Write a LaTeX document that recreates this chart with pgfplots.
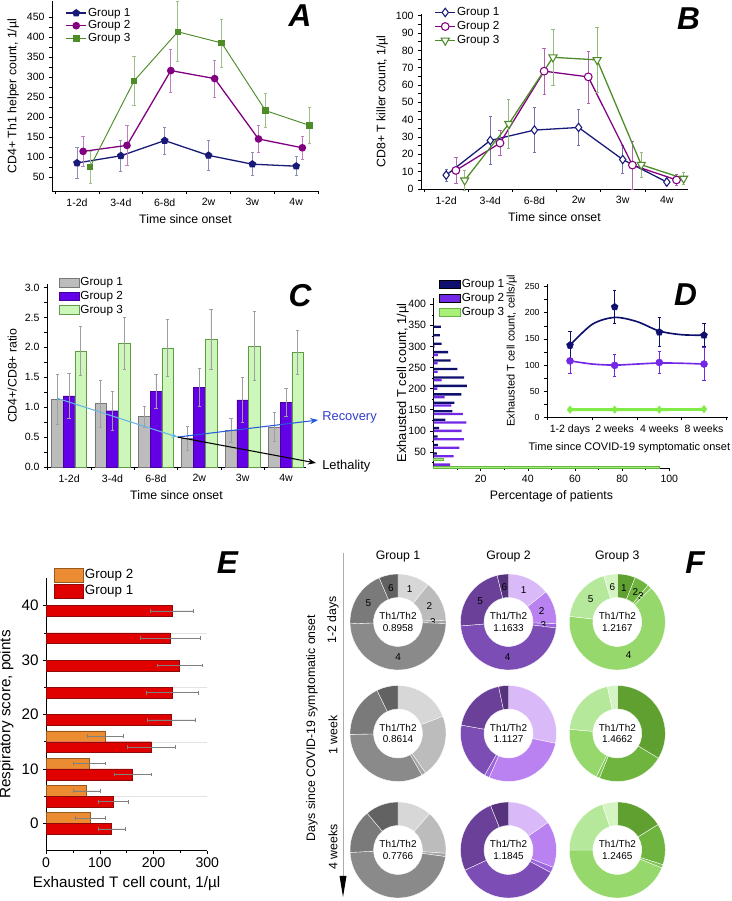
\documentclass[border=0pt]{standalone}
\usepackage{fontspec}
\setmainfont{Liberation Sans}
\usepackage{pgfplots}
\pgfplotsset{compat=1.18}
\usetikzlibrary{arrows.meta}

\newcommand\ftick{\fontsize{9}{10}\selectfont}
\newcommand\flab{\fontsize{10.5}{12}\selectfont}
\newcommand\fleg{\fontsize{10}{11}\selectfont}
\newcommand\fbig{\fontsize{27}{30}\selectfont\bfseries\itshape}
\newcommand\fth{\fontsize{8.5}{10}\selectfont}

\definecolor{nvA}{RGB}{25,25,120}
\definecolor{puA}{RGB}{128,0,128}
\definecolor{grA}{RGB}{78,140,40}
\definecolor{gyC}{RGB}{188,188,188}
\definecolor{gyCd}{RGB}{120,120,120}
\definecolor{puC}{RGB}{100,0,230}
\definecolor{puCd}{RGB}{70,0,160}
\definecolor{lgC}{RGB}{205,246,186}
\definecolor{lgCd}{RGB}{95,155,70}
\definecolor{ltbl}{RGB}{100,180,230}
\definecolor{rbbl}{RGB}{40,90,220}
\definecolor{recv}{RGB}{50,60,200}
\definecolor{nvD}{RGB}{15,15,110}
\definecolor{puD}{RGB}{115,40,230}
\definecolor{lgD}{RGB}{170,240,120}
\definecolor{lgDd}{RGB}{100,180,70}
\definecolor{lnD}{RGB}{130,235,70}
\definecolor{orE}{RGB}{235,140,50}
\definecolor{orEd}{RGB}{150,90,30}
\definecolor{rdE}{RGB}{225,0,0}
\definecolor{rdEd}{RGB}{140,10,10}
% donut palettes
\definecolor{gy1}{RGB}{215,215,215}
\definecolor{gy2}{RGB}{188,188,188}
\definecolor{gy3}{RGB}{165,165,165}
\definecolor{gy4}{RGB}{138,138,138}
\definecolor{gy5}{RGB}{122,122,122}
\definecolor{gy6}{RGB}{98,98,98}
\definecolor{pu1}{RGB}{218,185,248}
\definecolor{pu2}{RGB}{185,130,240}
\definecolor{pu3}{RGB}{155,100,220}
\definecolor{pu4}{RGB}{123,77,181}
\definecolor{pu5}{RGB}{106,64,153}
\definecolor{pu6}{RGB}{87,51,125}
\definecolor{gn1}{RGB}{95,160,48}
\definecolor{gn2}{RGB}{112,180,64}
\definecolor{gn3}{RGB}{128,196,85}
\definecolor{gn4}{RGB}{150,216,108}
\definecolor{gn5}{RGB}{181,232,154}
\definecolor{gn6}{RGB}{212,245,194}

\pgfplotsset{
  orig/.style={
    scale only axis, anchor=south west,
    axis lines=left, axis line style={-, line width=0.5pt},
    tick align=outside, major tick length=1mm, minor tick length=0.6mm,
    tick style={black, line width=0.45pt},
    tick label style={font=\ftick},
    label style={font=\flab},
    /pgf/number format/assume math mode=true,
    /pgf/number format/1000 sep={},
    clip=false,
    legend cell align=left,
    legend style={draw=none, fill=none, anchor=north west, inner sep=0pt,
      font=\fleg, nodes={inner sep=1pt}},
  },
  category/.style={major x tick style={draw=none}, minor tick length=0.9mm},
  ebar/.style={error bars/.cd, y dir=both, y explicit,
    error bar style={#1, line width=0.6pt},
    error mark options={#1, rotate=90, mark size=1.4pt, line width=0.6pt}},
  xebar/.style={error bars/.cd, x dir=both, x explicit,
    error bar style={#1, line width=0.4pt},
    error mark options={#1, rotate=90, mark size=1.6pt, line width=0.4pt}},
  boxlegend/.style 2 args={legend image code/.code={
    \draw[##1] (0mm,-#2/2) rectangle (#1,#2/2);}},
}

% donut: x px, y px (from top), palette, six shares in percent, numbered?
\newcommand\donut[5]{%
  \begin{scope}[shift={(#1,901-#2)}]
  \gdef\cum{0}%
  \foreach \s [count=\i] in {#4}{%
    \pgfmathsetmacro\aa{90-3.6*\cum}%
    \pgfmathsetmacro\bb{90-3.6*(\cum+\s)}%
    \fill[fill=#3\i, draw=white, line width=0.3pt] (\aa:48)
      arc[start angle=\aa, end angle=\bb, radius=48] -- (\bb:24.5)
      arc[start angle=\bb, end angle=\aa, radius=24.5] -- cycle;
    \ifnum#5=1
      \pgfmathsetmacro\mm{(\aa+\bb)/2}%
      \node[font=\fth, inner sep=0pt] at (\mm:35) {\i};
    \fi
    \pgfmathsetmacro\nc{\cum+\s}\xdef\cum{\nc}%
  }%
  \end{scope}}

\begin{document}
\begin{tikzpicture}
\path[use as bounding box] (0,0) rectangle (219.3mm,270.3mm);

% ---------- A
\begin{axis}[orig, category, at={(15.6mm,213mm)}, width=80.1mm, height=57mm,
  xmin=0.43, xmax=6.52, ymin=15, ymax=490,
  xtick={1,...,6}, xticklabels={1-2d,3-4d,6-8d,2w,3w,4w},
  minor xtick={0.5,1.5,...,6.5},
  ytick={50,100,...,450}, minor ytick={75,125,...,425},
  xlabel={Time since onset}, ylabel={CD4+ Th1 helper count, 1/µl},
  legend style={at={(0.05,0.97)}, row sep=0.3pt}]
\addplot[nvA, line width=1.1pt, mark=pentagon*, mark size=2.8pt, mark options={solid},
  ebar=nvA!50] coordinates {
  (1,85) +- (0,38) (2,103) +- (0,38) (3,141) +- (0,34)
  (4,104) +- (0,37) (5,82) +- (0,29) (6,77) +- (0,24)};
\addplot[puA, line width=1.1pt, mark=*, mark size=2.7pt, mark options={solid},
  ebar=puA!50] coordinates {
  (1.14,114) +- (0,38) (2.14,129) +- (0,50) (3.14,316) +- (0,54)
  (4.14,296) +- (0,46) (5.14,145) +- (0,33) (6.14,123) +- (0,29)};
\addplot[grA, line width=0.8pt, mark=square*, mark size=2.4pt, mark options={solid},
  ebar=grA!55] coordinates {
  (1.3,75) +- (0,40) (2.3,290) +- (0,61) (3.3,413) +- (0,75)
  (4.3,385) +- (0,60) (5.3,216) +- (0,43) (6.3,179) +- (0,45)};
\legend{Group 1, Group 2, Group 3}
\end{axis}

% ---------- B
\begin{axis}[orig, category, at={(126.3mm,213.6mm)}, width=80.1mm, height=52.5mm,
  xmin=0.43, xmax=6.48, ymin=0, ymax=101,
  xtick={1,...,6}, xticklabels={1-2d,3-4d,6-8d,2w,3w,4w},
  minor xtick={0.5,1.5,...,6.5},
  ytick={0,10,...,100}, minor ytick={5,15,...,95},
  xlabel={Time since onset}, ylabel={CD8+ T killer count, 1/µl},
  legend style={at={(0.05,1.045)}, row sep=1.5pt}]
\addplot[nvA, line width=1.1pt, mark=diamond*, mark size=3.6pt,
  mark options={solid, fill=white, line width=0.9pt}, ebar=nvA!60] coordinates {
  (1,8) +- (0,3.5) (2,28) +- (0,14) (3,34) +- (0,13)
  (4,35.5) +- (0,10.5) (5,17) +- (0,8) (6,4) +- (0,2)};
\addplot[puA, line width=1.1pt, mark=*, mark size=3.3pt,
  mark options={solid, fill=white, line width=0.9pt}, ebar=puA!60] coordinates {
  (1.22,10.7) +- (0,7.7) (2.22,26.5) +- (0,7.2) (3.22,68) +- (0,13.4)
  (4.22,64.7) +- (0,15) (5.22,13.8) +- (0,13.8) (6.22,5.2) +- (0,3.3)};
\addplot[grA, line width=1.1pt, mark=triangle*, mark size=4pt,
  mark options={solid, fill=white, line width=0.9pt, rotate=180}, ebar=grA!60] coordinates {
  (1.42,5) +- (0,6) (2.42,37.6) +- (0,14) (3.42,76) +- (0,16)
  (4.42,74.5) +- (0,18.5) (5.42,14) +- (0,7) (6.38,6) +- (0,3.6)};
\legend{Group 1, Group 2, Group 3}
\end{axis}

% ---------- C
\begin{axis}[orig, category, at={(14.1mm,130.2mm)}, width=77.7mm, height=54.75mm,
  xmin=0.49, xmax=6.46, ymin=0, ymax=3.05,
  xtick={1,...,6}, xticklabels={1-2d,3-4d,6-8d,2w,3w,4w},
  minor xtick={0.5,1.5,...,6.5},
  ytick={0,0.5,1,1.5,2,2.5,3}, minor ytick={0.25,0.75,1.25,1.75,2.25,2.75},
  yticklabel style={/pgf/number format/.cd, fixed, fixed zerofill, precision=1},
  xlabel={Time since onset}, ylabel={CD4+/CD8+ ratio},
  boxlegend={5.9mm}{2.6mm},
  legend style={at={(0.046,1.045)}, row sep=1.2pt}]
\addplot[ybar, bar width=0.27, bar shift=0, fill=gyC, draw=gyCd, line width=0.4pt,
  ebar=gray!75] coordinates {
  (0.73,1.13) +- (0,0.41) (1.73,1.06) +- (0,0.39) (2.73,0.84) +- (0,0.18)
  (3.73,0.48) +- (0,0.20) (4.73,0.61) +- (0,0.20) (5.73,0.67) +- (0,0.24)};
\addplot[ybar, bar width=0.27, bar shift=0, fill=puC, draw=puCd, line width=0.4pt,
  ebar=gray!75] coordinates {
  (1,1.19) +- (0,0.37) (2,0.94) +- (0,0.32) (3,1.26) +- (0,0.28)
  (4,1.33) +- (0,0.32) (5,1.12) +- (0,0.38) (6,1.08) +- (0,0.24)};
\addplot[ybar, bar width=0.27, bar shift=0, fill=lgC, draw=lgCd, line width=0.4pt,
  ebar=gray!75] coordinates {
  (1.27,1.94) +- (0,0.41) (2.27,2.07) +- (0,0.43) (3.27,1.99) +- (0,0.48)
  (4.27,2.13) +- (0,0.50) (5.27,2.02) +- (0,0.58) (6.27,1.92) +- (0,0.37)};
\legend{Group 1, Group 2, Group 3}
\addplot[ltbl, line width=0.9pt, -{Stealth[length=1.8mm]}] coordinates {(0.72,1.15) (3.5,0.5)};
\addplot[rbbl, line width=0.9pt, -{Stealth[length=2.4mm]}] coordinates {(3.5,0.5) (6.74,0.785)};
\addplot[black, line width=0.9pt, -{Stealth[length=2.4mm]}] coordinates {(3.5,0.5) (6.69,0.067)};
\node[anchor=west, text=recv, font=\fontsize{11}{13}\selectfont, inner sep=0pt]
  at (axis cs:6.83,0.836) {Recovery};
\node[anchor=west, font=\fontsize{11}{13}\selectfont, inner sep=0pt]
  at (axis cs:6.83,0.017) {Lethality};
\end{axis}

% ---------- D, histogram
\begin{axis}[orig, at={(130.05mm,129.9mm)}, width=70.74mm, height=51.02mm,
  xmin=0, xmax=100, ymin=12, ymax=415,
  xtick={20,40,...,100}, minor xtick={10,30,...,90},
  ytick={50,100,...,400}, minor ytick={25,75,...,375},
  xlabel={Percentage of patients}, ylabel={Exhausted T cell count, 1/µl},
  ylabel style={font=\fontsize{11}{13}\selectfont, yshift=-2.5mm},
  boxlegend={6.3mm}{2.4mm},
  legend style={at={(0.023,1.117)}, row sep=1.6pt}]
\addplot[xbar, bar width=5.5, bar shift=6.5, fill=nvD, draw=none] coordinates {
  (0,20) (1.4,40) (1.8,60) (1.7,80) (2.4,100) (5.0,120) (8.0,140) (8.8,160)
  (11.8,180) (14.2,200) (13.0,220) (10.1,240) (7.3,260) (6.2,280) (3.4,300)
  (2.7,320) (3.1,340)};
\addplot[xbar, bar width=5.5, bar shift=0, fill=puD, draw=none] coordinates {
  (7.0,20) (8.5,40) (11.0,60) (12.9,80) (11.9,100) (13.9,120) (12.5,140)
  (7.6,160) (4.7,180) (1.6,200) (3.4,220) (1.7,240) (1.7,260) (1.9,280)
  (0.5,300) (0.3,320) (0,340)};
\addplot[xbar, bar width=5.5, bar shift=-6.5, fill=lgD, draw=lgDd, line width=0.4pt] coordinates {
  (95.8,20) (4.2,40)};
\legend{Group 1, Group 2, Group 3}
\end{axis}

% ---------- D, time course
\begin{axis}[orig, category, at={(164.1mm,145.05mm)}, width=54.2mm, height=40.08mm,
  xmin=0.485, xmax=4.53, ymin=0, ymax=255,
  xtick={1,2,3,4}, xticklabels={1-2 days,2 weeks,4 weeks,8 weeks},
  minor xtick={0.5,1.5,2.5,3.5,4.5},
  ytick={0,50,...,250}, minor ytick={25,75,...,225},
  yticklabel style={font=\fontsize{7.5}{9}\selectfont},
  label style={font=\fontsize{9.4}{11}\selectfont},
  xlabel style={xshift=-2.4mm},
  xlabel={Time since COVID-19 symptomatic onset},
  ylabel={Exhausted T cell count, cells/µl}]
\addplot[lnD, line width=2.4pt, smooth, no marks] coordinates {(1,15) (2,15) (3,15) (4,15.5)};
\addplot[only marks, mark=diamond*, mark size=3.2pt, color=lnD] coordinates {
  (1,15) (2,15) (3,15) (4,16)};
\addplot[puD, line width=1.4pt, smooth, no marks] coordinates {
  (1,108) (1.5,102) (2,100) (2.5,102) (3,104) (3.5,103.5) (4,102)};
\addplot[only marks, mark=*, mark size=3pt, color=puD, ebar=puD] coordinates {
  (1,108) +- (0,24) (2,99.5) +- (0,21) (3,105) +- (0,21) (4,102) +- (0,31)};
\addplot[nvD, line width=1.4pt, smooth, no marks] coordinates {
  (1,138) (1.5,178) (2,191) (2.5,183) (3,165) (3.5,158) (4,157)};
\addplot[only marks, mark=pentagon*, mark size=3.1pt, color=nvD, ebar=nvD] coordinates {
  (1,138) +- (0,26) (2,211) +- (0,31) (3,163) +- (0,28) (4,157) +- (0,22)};
\end{axis}

% ---------- E
\begin{axis}[orig, at={(13.8mm,15.09mm)}, width=48.39mm, height=81.72mm,
  xmin=0, xmax=300, ymin=-5, ymax=45,
  xtick={0,100,200,300}, minor xtick={50,150,250},
  ytick={0,10,...,40}, minor ytick={5,15,25,35},
  yminorgrids, minor grid style={gray!22, line width=0.3pt},
  xticklabel style={font=\fontsize{12}{14}\selectfont},
  yticklabel style={font=\fontsize{13}{15}\selectfont},
  label style={font=\fontsize{13}{15}\selectfont},
  xlabel={Exhausted T cell count, 1/µl}, ylabel={Respiratory score, points},
  boxlegend={8.7mm}{4.2mm},
  legend style={at={(0.05,1.04)}, row sep=1.2pt, font=\fontsize{11.4}{13}\selectfont}]
\addplot[xbar, bar width=2, bar shift=0, fill=orE, draw=orEd, line width=0.4pt,
  xebar=gray] coordinates {
  (110.5,16) +- (33,0) (81,11) +- (30,0) (75.3,6) +- (25.5,0) (82,1) +- (27.5,0)};
\addplot[xbar, bar width=2, bar shift=0, fill=rdE, draw=rdEd, line width=0.4pt,
  xebar=gray] coordinates {
  (234.6,39) +- (40,0) (231,34) +- (56,0) (248,29) +- (42,0) (235,24) +- (49,0)
  (233,19) +- (45,0) (196,14) +- (45,0) (161,9) +- (34,0) (125,4) +- (28,0)
  (122,-1) +- (25,0)};
\legend{Group 2, Group 1}
\end{axis}

% ---------- letters, panel F
\begin{scope}[x=0.3mm, y=0.3mm]
\node[font=\fbig] at (300,885) {A};
\node[font=\fbig] at (688.5,882.5) {B};
\node[font=\fbig] at (300,605) {C};
\node[font=\fbig] at (685.5,606) {D};
\node[font=\fbig] at (227.5,338) {E};
\node[font=\fbig] at (695,338.5) {F};

\donut{398}{622}{gy}{10.8,13.6,1.1,48.9,19.2,6.4}{1}
\donut{508.5}{622}{pu}{14.2,11.4,1.4,46.7,22.5,3.8}{1}
\donut{617.3}{622}{gn}{6.1,5.0,1.4,64.4,18.6,4.5}{1}
\donut{398}{733.5}{gy}{19.2,21.1,1.4,33.0,18.1,7.2}{0}
\donut{508.5}{733.5}{pu}{28.3,28.3,1.7,19.5,18.9,3.3}{0}
\donut{617.3}{733.5}{gn}{33.6,22.5,1.1,19.2,20.3,3.3}{0}
\donut{398}{850}{gy}{11.4,14.7,1.1,47.0,14.7,11.1}{0}
\donut{508.5}{850}{pu}{15.3,15.6,1.9,35.3,25.8,6.1}{0}
\donut{617.3}{850}{gn}{16.1,13.9,1.1,43.9,20.0,5.0}{0}

\foreach \x/\r/\v in {398/622/0.8958, 508.5/622/1.1633, 617.3/622/1.2167,
    398/733.5/0.8614, 508.5/733.5/1.1127, 617.3/733.5/1.4662,
    398/850/0.7766, 508.5/850/1.1845, 617.3/850/1.2465}
  \node[font=\fth, align=center, inner sep=0pt] at (\x,901-\r) {Th1/Th2\\\v};

\node[font=\flab] at (398,344.3) {Group 1};
\node[font=\flab] at (508.5,344.3) {Group 2};
\node[font=\flab] at (617.3,344.3) {Group 3};

\draw[gray!65, line width=0.7pt] (343,348) -- (343,22);
\fill[black] (339.5,25) -- (346.5,25) -- (343,4) -- cycle;
\node[font=\flab, rotate=90] at (333,281) {1-2 days};
\node[font=\flab, rotate=90] at (333,166) {1 week};
\node[font=\flab, rotate=90] at (333,54) {4 weeks};
\node[font=\flab, rotate=90] at (312,173) {Days since COVID-19 symptomatic onset};
\end{scope}
\end{tikzpicture}
\end{document}
